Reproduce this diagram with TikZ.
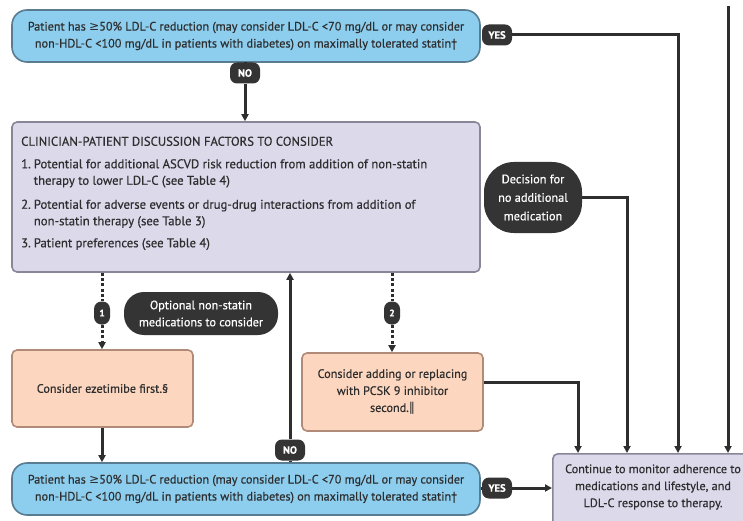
\documentclass[tikz,border=0pt]{standalone}
\usepackage{fontspec}
\setmainfont[FakeBold=0.5]{PT Sans}
\newfontfamily\symfont{DejaVu Sans}
\usetikzlibrary{arrows.meta}

\definecolor{bluefill}{HTML}{8DCDEE}
\definecolor{blueline}{HTML}{587C92}
\definecolor{lilac}{HTML}{DCD9EB}
\definecolor{lilacline}{HTML}{8A8698}
\definecolor{peach}{HTML}{FCD6BF}
\definecolor{peachline}{HTML}{B08C78}
\definecolor{ink}{HTML}{2E2E2E}
\definecolor{badge}{HTML}{343434}

\newcommand{\atleast}{{\symfont ≥}}

\tikzset{
  txt/.style={font=\fontsize{12.2}{17}\selectfont, text=ink},
  goalbox/.style={txt, draw=blueline, fill=bluefill, line width=1.6pt,
    rounded corners=15pt, minimum width=468pt, minimum height=52pt, align=center, inner sep=0pt},
  lilacbox/.style={draw=lilacline, fill=lilac, line width=1.6pt, rounded corners=5pt,
    minimum width=468pt, minimum height=150pt, inner sep=0pt},
  peachbox/.style={txt, draw=peachline, fill=peach, line width=1.6pt, rounded corners=5pt,
    minimum width=181pt, minimum height=78pt, align=center, inner sep=0pt},
  darkbadge/.style={fill=badge, text=white, inner sep=0pt, align=center},
  yesno/.style={darkbadge, font=\bfseries\fontsize{10.5}{10}\selectfont,
    rounded corners=7pt, minimum width=30pt, minimum height=21pt},
  numbadge/.style={darkbadge, font=\bfseries\fontsize{9.5}{10}\selectfont,
    rounded corners=7.5pt, minimum width=16pt, minimum height=23pt},
  flow/.style={draw=ink, line width=3pt},
  arrow/.style={flow, -{Triangle[length=7pt,width=7pt]}},
  optional/.style={draw=ink, line width=3pt, dash pattern=on 3pt off 2.3pt},
  optarrow/.style={optional, -{Triangle[length=7pt,width=7pt]}}
}

\begin{document}
\begin{tikzpicture}[x=1pt,y=-1pt]
\useasboundingbox (0,0) rectangle (743,521);
\fill[white] (0,0) rectangle (743,521);

% ---- boxes ----
\node[goalbox] (goalA) at (246,36)
  {Patient has \atleast50\% LDL-C reduction (may consider LDL-C <70 mg/dL or may consider\\
   non-HDL-C <100 mg/dL in patients with diabetes) on maximally tolerated statin†};

\node[lilacbox] (disc) at (246,197) {};
\node[txt, anchor=north west, inner sep=0pt, font=\fontsize{12.7}{16.5}\selectfont] (disctext) at (21,134)
  {\begin{tabular}{@{}l@{\hspace{3pt}}l@{}}
   \multicolumn{2}{@{}l}{CLINICIAN-PATIENT DISCUSSION FACTORS TO CONSIDER}\\[6pt]
   1. & Potential for additional ASCVD risk reduction from addition of non-statin\\
      & therapy to lower LDL-C (see Table 4)\\[7.5pt]
   2. & Potential for adverse events or drug-drug interactions from addition of\\
      & non-statin therapy (see Table 3)\\[5.5pt]
   3. & Patient preferences (see Table 4)
   \end{tabular}};

\node[peachbox, minimum height=77pt] (eze) at (102.5,388.5) {Consider ezetimibe first.§};
\node[peachbox] (pcsk) at (392.5,392)
  {Consider adding or replacing\\ with PCSK 9 inhibitor\\ second.{\symfont ‖}};

\node[goalbox] (goalB) at (246,489)
  {Patient has \atleast50\% LDL-C reduction (may consider LDL-C <70 mg/dL or may consider\\
   non-HDL-C <100 mg/dL in patients with diabetes) on maximally tolerated statin†};

% monitoring box runs past the lower and right page edges
\node[draw=lilacline, fill=lilac, line width=1.6pt, rounded corners=5pt,
      minimum width=200pt, minimum height=85pt, anchor=north west, inner sep=0pt] (monitor) at (552,453) {};
\node[txt, align=center, inner sep=0pt] (monitortext) at (653,487)
  {Continue to monitor adherence to\\ medications and lifestyle, and\\ LDL-C response to therapy.};

% ---- badges ----
\node[yesno] (noA) at (245,73) {NO};
\node[yesno] (yesA) at (497,35) {YES};
\node[darkbadge, font=\fontsize{12.3}{18.5}\selectfont, rounded corners=30pt,
      minimum width=98pt, minimum height=71pt] (decide) at (533,197.5)
  {Decision for\\ no additional\\ medication};
\node[numbadge] (one) at (102,313) {1};
\node[darkbadge, font=\fontsize{12.2}{17}\selectfont, rounded corners=20pt,
      minimum width=154pt, minimum height=43pt] (opt) at (201,313.5)
  {Optional non-statin\\ medications to consider};
\node[numbadge] (two) at (392,313) {2};
\node[yesno] (noB) at (290,450) {NO};
\node[yesno] (yesB) at (497,488) {YES};

\coordinate (topfeed) at (728,6);

% ---- connectors ----
\draw[arrow] (noA) -- (disc.north -| noA);
\draw[flow] (goalA.south -| noA) -- (noA);
\draw[arrow] (yesA.east) -| (monitor.north -| 678,0);
\draw[arrow] (topfeed) -- (monitor.north -| topfeed);
\draw[arrow] (decide.east) -| (monitor.north -| 627,0);
\draw[arrow] (pcsk.east |- 0,382) -| (monitor.north -| 578,0);

\draw[optional] (disc.south -| one) -- (one);
\draw[optarrow] (one) -- (eze.north -| one);
\draw[optional] (disc.south -| two) -- (two);
\draw[optarrow] (two) -- (pcsk.north -| two);

\draw[arrow] (eze.south -| 102,0) -- (goalB.north -| 102,0);
\draw[flow] (goalB.north -| noB) -- (noB);
\draw[arrow] (noB) -- (disc.south -| noB);
\draw[flow] (goalB.east |- yesB) -- (yesB);
\draw[arrow] (yesB) -- (monitor.west |- yesB);
\end{tikzpicture}
\end{document}
